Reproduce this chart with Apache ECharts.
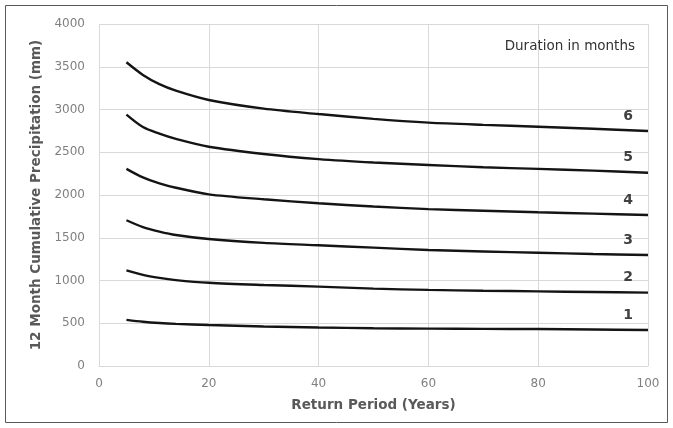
<!DOCTYPE html>
<html>
<head>
<meta charset="utf-8">
<script src="https://cdn.jsdelivr.net/npm/echarts@6/dist/echarts.min.js"></script>
<style>html,body{margin:0;padding:0;background:#fff;}#c{width:673px;height:428px;}</style>
</head>
<body>
<div id="c"></div>
<script>
var returnPeriods = [5, 8, 11, 14, 20, 30, 40, 50, 60, 70, 80, 90, 100];
var dur1 = [540, 518, 503, 493, 480, 462, 450, 442, 437, 434, 432, 427, 421];
var dur2 = [1118, 1065, 1030, 1005, 974, 948, 928, 905, 890, 880, 873, 865, 858];
var dur3 = [1705, 1625, 1572, 1532, 1485, 1440, 1412, 1385, 1357, 1340, 1325, 1310, 1298];
var dur4 = [2305, 2205, 2137, 2085, 2008, 1950, 1903, 1865, 1835, 1815, 1798, 1782, 1766];
var dur5 = [2940, 2795, 2718, 2657, 2565, 2480, 2420, 2380, 2351, 2325, 2305, 2285, 2261];
var dur6 = [3552, 3404, 3296, 3220, 3111, 3010, 2947, 2890, 2846, 2820, 2799, 2775, 2749];
var durationNames = ['1', '2', '3', '4', '5', '6'];
var yTicks = [0, 500, 1000, 1500, 2000, 2500, 3000, 3500, 4000];
var xTicks = [0, 20, 40, 60, 80, 100];

var FONT = 'DejaVu Sans, Liberation Sans, sans-serif';
var allSeries = [dur1, dur2, dur3, dur4, dur5, dur6];
var chart = echarts.init(document.getElementById('c'));
var series = allSeries.map(function (vals, i) {
  var last = returnPeriods.length - 1;
  return {
    type: 'line', name: durationNames[i],
    data: returnPeriods.map(function (x, j) { return [x, vals[j]]; }),
    smooth: 0.3, showSymbol: false, symbol: 'none',
    lineStyle: { color: '#141414', width: 2.4 }, silent: true, z: 3,
    markPoint: {
      silent: true, symbol: 'circle', symbolSize: 0, animation: false,
      data: [{ coord: [returnPeriods[last], vals[last]], value: durationNames[i] }],
      label: {
        show: true, position: 'top', distance: 5, offset: [-20, -3], formatter: '{c}',
        fontFamily: FONT, fontSize: 14, fontWeight: 'bold', color: '#404040'
      }
    }
  };
});

chart.setOption({
  animation: false,
  backgroundColor: '#ffffff',
  textStyle: { fontFamily: FONT },
  grid: { left: 99, right: 25, top: 24, bottom: 62, containLabel: false },
  title: {
    text: 'Duration in months', right: 33, top: 34,
    textStyle: { fontFamily: FONT, fontSize: 13.5, fontWeight: 'normal', color: '#333333' }
  },
  xAxis: {
    type: 'value', min: xTicks[0], max: xTicks[xTicks.length - 1], interval: 20,
    name: 'Return Period (Years)', nameLocation: 'middle', nameGap: 32,
    nameTextStyle: { fontFamily: FONT, fontSize: 13.5, fontWeight: 'bold', color: '#595959' },
    axisLine: { show: true, lineStyle: { color: '#d9d9d9' } },
    axisTick: { show: false },
    axisLabel: { color: '#808080', fontSize: 12, margin: 12, fontFamily: FONT, formatter: function (v) { return String(v); } },
    splitLine: { show: true, lineStyle: { color: '#d9d9d9', width: 1 } }
  },
  yAxis: {
    type: 'value', min: yTicks[0], max: yTicks[yTicks.length - 1], interval: 500,
    name: '12 Month Cumulative Precipitation (mm)', nameLocation: 'middle', nameGap: 48,
    nameTextStyle: { fontFamily: FONT, fontSize: 13.5, fontWeight: 'bold', color: '#595959' },
    axisLine: { show: false },
    axisTick: { show: false },
    axisLabel: { color: '#808080', fontSize: 12, margin: 14, fontFamily: FONT, formatter: function (v) { return String(v); } },
    splitLine: { show: true, lineStyle: { color: '#d9d9d9', width: 1 } }
  },
  graphic: [{
    type: 'rect', shape: { x: 5.5, y: 5.5, width: 662, height: 417 },
    style: { fill: 'none', stroke: '#595959', lineWidth: 1 }, silent: true, z: 0
  }],
  series: series
});
</script>
</body>
</html>
